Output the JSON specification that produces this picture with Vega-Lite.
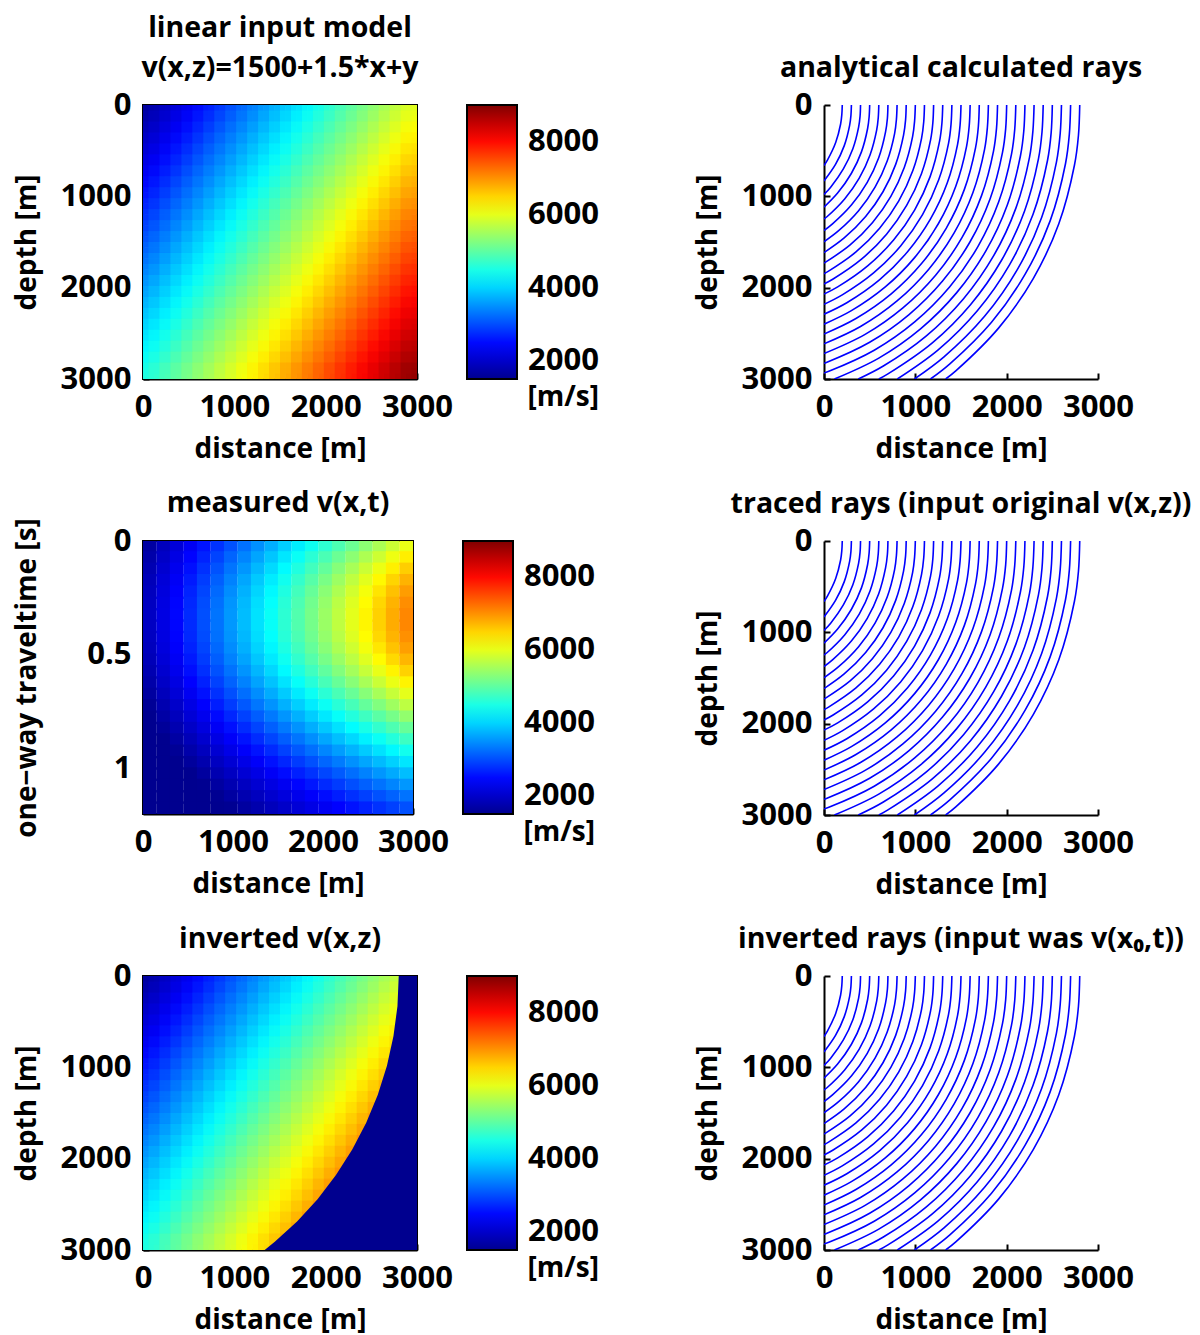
{
"$schema":"https://vega.github.io/schema/vega-lite/v6.json",
"background":"white",
"padding":{"left":12,"top":12,"right":0,"bottom":0},
"datasets":{
"model":[
{"x":60,"z":60,"v":1650},{"x":180,"z":60,"v":1830},{"x":300,"z":60,"v":2010},{"x":420,"z":60,"v":2190},{"x":540,"z":60,"v":2370},{"x":660,"z":60,"v":2550},{"x":780,"z":60,"v":2730},{"x":900,"z":60,"v":2910},{"x":1020,"z":60,"v":3090},{"x":1140,"z":60,"v":3270},{"x":1260,"z":60,"v":3450},{"x":1380,"z":60,"v":3630},{"x":1500,"z":60,"v":3810},{"x":1620,"z":60,"v":3990},{"x":1740,"z":60,"v":4170},{"x":1860,"z":60,"v":4350},{"x":1980,"z":60,"v":4530},{"x":2100,"z":60,"v":4710},{"x":2220,"z":60,"v":4890},{"x":2340,"z":60,"v":5070},{"x":2460,"z":60,"v":5250},{"x":2580,"z":60,"v":5430},{"x":2700,"z":60,"v":5610},{"x":2820,"z":60,"v":5790},{"x":2940,"z":60,"v":5970},
{"x":60,"z":180,"v":1770},{"x":180,"z":180,"v":1950},{"x":300,"z":180,"v":2130},{"x":420,"z":180,"v":2310},{"x":540,"z":180,"v":2490},{"x":660,"z":180,"v":2670},{"x":780,"z":180,"v":2850},{"x":900,"z":180,"v":3030},{"x":1020,"z":180,"v":3210},{"x":1140,"z":180,"v":3390},{"x":1260,"z":180,"v":3570},{"x":1380,"z":180,"v":3750},{"x":1500,"z":180,"v":3930},{"x":1620,"z":180,"v":4110},{"x":1740,"z":180,"v":4290},{"x":1860,"z":180,"v":4470},{"x":1980,"z":180,"v":4650},{"x":2100,"z":180,"v":4830},{"x":2220,"z":180,"v":5010},{"x":2340,"z":180,"v":5190},{"x":2460,"z":180,"v":5370},{"x":2580,"z":180,"v":5550},{"x":2700,"z":180,"v":5730},{"x":2820,"z":180,"v":5910},{"x":2940,"z":180,"v":6090},
{"x":60,"z":300,"v":1890},{"x":180,"z":300,"v":2070},{"x":300,"z":300,"v":2250},{"x":420,"z":300,"v":2430},{"x":540,"z":300,"v":2610},{"x":660,"z":300,"v":2790},{"x":780,"z":300,"v":2970},{"x":900,"z":300,"v":3150},{"x":1020,"z":300,"v":3330},{"x":1140,"z":300,"v":3510},{"x":1260,"z":300,"v":3690},{"x":1380,"z":300,"v":3870},{"x":1500,"z":300,"v":4050},{"x":1620,"z":300,"v":4230},{"x":1740,"z":300,"v":4410},{"x":1860,"z":300,"v":4590},{"x":1980,"z":300,"v":4770},{"x":2100,"z":300,"v":4950},{"x":2220,"z":300,"v":5130},{"x":2340,"z":300,"v":5310},{"x":2460,"z":300,"v":5490},{"x":2580,"z":300,"v":5670},{"x":2700,"z":300,"v":5850},{"x":2820,"z":300,"v":6030},{"x":2940,"z":300,"v":6210},
{"x":60,"z":420,"v":2010},{"x":180,"z":420,"v":2190},{"x":300,"z":420,"v":2370},{"x":420,"z":420,"v":2550},{"x":540,"z":420,"v":2730},{"x":660,"z":420,"v":2910},{"x":780,"z":420,"v":3090},{"x":900,"z":420,"v":3270},{"x":1020,"z":420,"v":3450},{"x":1140,"z":420,"v":3630},{"x":1260,"z":420,"v":3810},{"x":1380,"z":420,"v":3990},{"x":1500,"z":420,"v":4170},{"x":1620,"z":420,"v":4350},{"x":1740,"z":420,"v":4530},{"x":1860,"z":420,"v":4710},{"x":1980,"z":420,"v":4890},{"x":2100,"z":420,"v":5070},{"x":2220,"z":420,"v":5250},{"x":2340,"z":420,"v":5430},{"x":2460,"z":420,"v":5610},{"x":2580,"z":420,"v":5790},{"x":2700,"z":420,"v":5970},{"x":2820,"z":420,"v":6150},{"x":2940,"z":420,"v":6330},
{"x":60,"z":540,"v":2130},{"x":180,"z":540,"v":2310},{"x":300,"z":540,"v":2490},{"x":420,"z":540,"v":2670},{"x":540,"z":540,"v":2850},{"x":660,"z":540,"v":3030},{"x":780,"z":540,"v":3210},{"x":900,"z":540,"v":3390},{"x":1020,"z":540,"v":3570},{"x":1140,"z":540,"v":3750},{"x":1260,"z":540,"v":3930},{"x":1380,"z":540,"v":4110},{"x":1500,"z":540,"v":4290},{"x":1620,"z":540,"v":4470},{"x":1740,"z":540,"v":4650},{"x":1860,"z":540,"v":4830},{"x":1980,"z":540,"v":5010},{"x":2100,"z":540,"v":5190},{"x":2220,"z":540,"v":5370},{"x":2340,"z":540,"v":5550},{"x":2460,"z":540,"v":5730},{"x":2580,"z":540,"v":5910},{"x":2700,"z":540,"v":6090},{"x":2820,"z":540,"v":6270},{"x":2940,"z":540,"v":6450},
{"x":60,"z":660,"v":2250},{"x":180,"z":660,"v":2430},{"x":300,"z":660,"v":2610},{"x":420,"z":660,"v":2790},{"x":540,"z":660,"v":2970},{"x":660,"z":660,"v":3150},{"x":780,"z":660,"v":3330},{"x":900,"z":660,"v":3510},{"x":1020,"z":660,"v":3690},{"x":1140,"z":660,"v":3870},{"x":1260,"z":660,"v":4050},{"x":1380,"z":660,"v":4230},{"x":1500,"z":660,"v":4410},{"x":1620,"z":660,"v":4590},{"x":1740,"z":660,"v":4770},{"x":1860,"z":660,"v":4950},{"x":1980,"z":660,"v":5130},{"x":2100,"z":660,"v":5310},{"x":2220,"z":660,"v":5490},{"x":2340,"z":660,"v":5670},{"x":2460,"z":660,"v":5850},{"x":2580,"z":660,"v":6030},{"x":2700,"z":660,"v":6210},{"x":2820,"z":660,"v":6390},{"x":2940,"z":660,"v":6570},
{"x":60,"z":780,"v":2370},{"x":180,"z":780,"v":2550},{"x":300,"z":780,"v":2730},{"x":420,"z":780,"v":2910},{"x":540,"z":780,"v":3090},{"x":660,"z":780,"v":3270},{"x":780,"z":780,"v":3450},{"x":900,"z":780,"v":3630},{"x":1020,"z":780,"v":3810},{"x":1140,"z":780,"v":3990},{"x":1260,"z":780,"v":4170},{"x":1380,"z":780,"v":4350},{"x":1500,"z":780,"v":4530},{"x":1620,"z":780,"v":4710},{"x":1740,"z":780,"v":4890},{"x":1860,"z":780,"v":5070},{"x":1980,"z":780,"v":5250},{"x":2100,"z":780,"v":5430},{"x":2220,"z":780,"v":5610},{"x":2340,"z":780,"v":5790},{"x":2460,"z":780,"v":5970},{"x":2580,"z":780,"v":6150},{"x":2700,"z":780,"v":6330},{"x":2820,"z":780,"v":6510},{"x":2940,"z":780,"v":6690},
{"x":60,"z":900,"v":2490},{"x":180,"z":900,"v":2670},{"x":300,"z":900,"v":2850},{"x":420,"z":900,"v":3030},{"x":540,"z":900,"v":3210},{"x":660,"z":900,"v":3390},{"x":780,"z":900,"v":3570},{"x":900,"z":900,"v":3750},{"x":1020,"z":900,"v":3930},{"x":1140,"z":900,"v":4110},{"x":1260,"z":900,"v":4290},{"x":1380,"z":900,"v":4470},{"x":1500,"z":900,"v":4650},{"x":1620,"z":900,"v":4830},{"x":1740,"z":900,"v":5010},{"x":1860,"z":900,"v":5190},{"x":1980,"z":900,"v":5370},{"x":2100,"z":900,"v":5550},{"x":2220,"z":900,"v":5730},{"x":2340,"z":900,"v":5910},{"x":2460,"z":900,"v":6090},{"x":2580,"z":900,"v":6270},{"x":2700,"z":900,"v":6450},{"x":2820,"z":900,"v":6630},{"x":2940,"z":900,"v":6810},
{"x":60,"z":1020,"v":2610},{"x":180,"z":1020,"v":2790},{"x":300,"z":1020,"v":2970},{"x":420,"z":1020,"v":3150},{"x":540,"z":1020,"v":3330},{"x":660,"z":1020,"v":3510},{"x":780,"z":1020,"v":3690},{"x":900,"z":1020,"v":3870},{"x":1020,"z":1020,"v":4050},{"x":1140,"z":1020,"v":4230},{"x":1260,"z":1020,"v":4410},{"x":1380,"z":1020,"v":4590},{"x":1500,"z":1020,"v":4770},{"x":1620,"z":1020,"v":4950},{"x":1740,"z":1020,"v":5130},{"x":1860,"z":1020,"v":5310},{"x":1980,"z":1020,"v":5490},{"x":2100,"z":1020,"v":5670},{"x":2220,"z":1020,"v":5850},{"x":2340,"z":1020,"v":6030},{"x":2460,"z":1020,"v":6210},{"x":2580,"z":1020,"v":6390},{"x":2700,"z":1020,"v":6570},{"x":2820,"z":1020,"v":6750},{"x":2940,"z":1020,"v":6930},
{"x":60,"z":1140,"v":2730},{"x":180,"z":1140,"v":2910},{"x":300,"z":1140,"v":3090},{"x":420,"z":1140,"v":3270},{"x":540,"z":1140,"v":3450},{"x":660,"z":1140,"v":3630},{"x":780,"z":1140,"v":3810},{"x":900,"z":1140,"v":3990},{"x":1020,"z":1140,"v":4170},{"x":1140,"z":1140,"v":4350},{"x":1260,"z":1140,"v":4530},{"x":1380,"z":1140,"v":4710},{"x":1500,"z":1140,"v":4890},{"x":1620,"z":1140,"v":5070},{"x":1740,"z":1140,"v":5250},{"x":1860,"z":1140,"v":5430},{"x":1980,"z":1140,"v":5610},{"x":2100,"z":1140,"v":5790},{"x":2220,"z":1140,"v":5970},{"x":2340,"z":1140,"v":6150},{"x":2460,"z":1140,"v":6330},{"x":2580,"z":1140,"v":6510},{"x":2700,"z":1140,"v":6690},{"x":2820,"z":1140,"v":6870},{"x":2940,"z":1140,"v":7050},
{"x":60,"z":1260,"v":2850},{"x":180,"z":1260,"v":3030},{"x":300,"z":1260,"v":3210},{"x":420,"z":1260,"v":3390},{"x":540,"z":1260,"v":3570},{"x":660,"z":1260,"v":3750},{"x":780,"z":1260,"v":3930},{"x":900,"z":1260,"v":4110},{"x":1020,"z":1260,"v":4290},{"x":1140,"z":1260,"v":4470},{"x":1260,"z":1260,"v":4650},{"x":1380,"z":1260,"v":4830},{"x":1500,"z":1260,"v":5010},{"x":1620,"z":1260,"v":5190},{"x":1740,"z":1260,"v":5370},{"x":1860,"z":1260,"v":5550},{"x":1980,"z":1260,"v":5730},{"x":2100,"z":1260,"v":5910},{"x":2220,"z":1260,"v":6090},{"x":2340,"z":1260,"v":6270},{"x":2460,"z":1260,"v":6450},{"x":2580,"z":1260,"v":6630},{"x":2700,"z":1260,"v":6810},{"x":2820,"z":1260,"v":6990},{"x":2940,"z":1260,"v":7170},
{"x":60,"z":1380,"v":2970},{"x":180,"z":1380,"v":3150},{"x":300,"z":1380,"v":3330},{"x":420,"z":1380,"v":3510},{"x":540,"z":1380,"v":3690},{"x":660,"z":1380,"v":3870},{"x":780,"z":1380,"v":4050},{"x":900,"z":1380,"v":4230},{"x":1020,"z":1380,"v":4410},{"x":1140,"z":1380,"v":4590},{"x":1260,"z":1380,"v":4770},{"x":1380,"z":1380,"v":4950},{"x":1500,"z":1380,"v":5130},{"x":1620,"z":1380,"v":5310},{"x":1740,"z":1380,"v":5490},{"x":1860,"z":1380,"v":5670},{"x":1980,"z":1380,"v":5850},{"x":2100,"z":1380,"v":6030},{"x":2220,"z":1380,"v":6210},{"x":2340,"z":1380,"v":6390},{"x":2460,"z":1380,"v":6570},{"x":2580,"z":1380,"v":6750},{"x":2700,"z":1380,"v":6930},{"x":2820,"z":1380,"v":7110},{"x":2940,"z":1380,"v":7290},
{"x":60,"z":1500,"v":3090},{"x":180,"z":1500,"v":3270},{"x":300,"z":1500,"v":3450},{"x":420,"z":1500,"v":3630},{"x":540,"z":1500,"v":3810},{"x":660,"z":1500,"v":3990},{"x":780,"z":1500,"v":4170},{"x":900,"z":1500,"v":4350},{"x":1020,"z":1500,"v":4530},{"x":1140,"z":1500,"v":4710},{"x":1260,"z":1500,"v":4890},{"x":1380,"z":1500,"v":5070},{"x":1500,"z":1500,"v":5250},{"x":1620,"z":1500,"v":5430},{"x":1740,"z":1500,"v":5610},{"x":1860,"z":1500,"v":5790},{"x":1980,"z":1500,"v":5970},{"x":2100,"z":1500,"v":6150},{"x":2220,"z":1500,"v":6330},{"x":2340,"z":1500,"v":6510},{"x":2460,"z":1500,"v":6690},{"x":2580,"z":1500,"v":6870},{"x":2700,"z":1500,"v":7050},{"x":2820,"z":1500,"v":7230},{"x":2940,"z":1500,"v":7410},
{"x":60,"z":1620,"v":3210},{"x":180,"z":1620,"v":3390},{"x":300,"z":1620,"v":3570},{"x":420,"z":1620,"v":3750},{"x":540,"z":1620,"v":3930},{"x":660,"z":1620,"v":4110},{"x":780,"z":1620,"v":4290},{"x":900,"z":1620,"v":4470},{"x":1020,"z":1620,"v":4650},{"x":1140,"z":1620,"v":4830},{"x":1260,"z":1620,"v":5010},{"x":1380,"z":1620,"v":5190},{"x":1500,"z":1620,"v":5370},{"x":1620,"z":1620,"v":5550},{"x":1740,"z":1620,"v":5730},{"x":1860,"z":1620,"v":5910},{"x":1980,"z":1620,"v":6090},{"x":2100,"z":1620,"v":6270},{"x":2220,"z":1620,"v":6450},{"x":2340,"z":1620,"v":6630},{"x":2460,"z":1620,"v":6810},{"x":2580,"z":1620,"v":6990},{"x":2700,"z":1620,"v":7170},{"x":2820,"z":1620,"v":7350},{"x":2940,"z":1620,"v":7530},
{"x":60,"z":1740,"v":3330},{"x":180,"z":1740,"v":3510},{"x":300,"z":1740,"v":3690},{"x":420,"z":1740,"v":3870},{"x":540,"z":1740,"v":4050},{"x":660,"z":1740,"v":4230},{"x":780,"z":1740,"v":4410},{"x":900,"z":1740,"v":4590},{"x":1020,"z":1740,"v":4770},{"x":1140,"z":1740,"v":4950},{"x":1260,"z":1740,"v":5130},{"x":1380,"z":1740,"v":5310},{"x":1500,"z":1740,"v":5490},{"x":1620,"z":1740,"v":5670},{"x":1740,"z":1740,"v":5850},{"x":1860,"z":1740,"v":6030},{"x":1980,"z":1740,"v":6210},{"x":2100,"z":1740,"v":6390},{"x":2220,"z":1740,"v":6570},{"x":2340,"z":1740,"v":6750},{"x":2460,"z":1740,"v":6930},{"x":2580,"z":1740,"v":7110},{"x":2700,"z":1740,"v":7290},{"x":2820,"z":1740,"v":7470},{"x":2940,"z":1740,"v":7650},
{"x":60,"z":1860,"v":3450},{"x":180,"z":1860,"v":3630},{"x":300,"z":1860,"v":3810},{"x":420,"z":1860,"v":3990},{"x":540,"z":1860,"v":4170},{"x":660,"z":1860,"v":4350},{"x":780,"z":1860,"v":4530},{"x":900,"z":1860,"v":4710},{"x":1020,"z":1860,"v":4890},{"x":1140,"z":1860,"v":5070},{"x":1260,"z":1860,"v":5250},{"x":1380,"z":1860,"v":5430},{"x":1500,"z":1860,"v":5610},{"x":1620,"z":1860,"v":5790},{"x":1740,"z":1860,"v":5970},{"x":1860,"z":1860,"v":6150},{"x":1980,"z":1860,"v":6330},{"x":2100,"z":1860,"v":6510},{"x":2220,"z":1860,"v":6690},{"x":2340,"z":1860,"v":6870},{"x":2460,"z":1860,"v":7050},{"x":2580,"z":1860,"v":7230},{"x":2700,"z":1860,"v":7410},{"x":2820,"z":1860,"v":7590},{"x":2940,"z":1860,"v":7770},
{"x":60,"z":1980,"v":3570},{"x":180,"z":1980,"v":3750},{"x":300,"z":1980,"v":3930},{"x":420,"z":1980,"v":4110},{"x":540,"z":1980,"v":4290},{"x":660,"z":1980,"v":4470},{"x":780,"z":1980,"v":4650},{"x":900,"z":1980,"v":4830},{"x":1020,"z":1980,"v":5010},{"x":1140,"z":1980,"v":5190},{"x":1260,"z":1980,"v":5370},{"x":1380,"z":1980,"v":5550},{"x":1500,"z":1980,"v":5730},{"x":1620,"z":1980,"v":5910},{"x":1740,"z":1980,"v":6090},{"x":1860,"z":1980,"v":6270},{"x":1980,"z":1980,"v":6450},{"x":2100,"z":1980,"v":6630},{"x":2220,"z":1980,"v":6810},{"x":2340,"z":1980,"v":6990},{"x":2460,"z":1980,"v":7170},{"x":2580,"z":1980,"v":7350},{"x":2700,"z":1980,"v":7530},{"x":2820,"z":1980,"v":7710},{"x":2940,"z":1980,"v":7890},
{"x":60,"z":2100,"v":3690},{"x":180,"z":2100,"v":3870},{"x":300,"z":2100,"v":4050},{"x":420,"z":2100,"v":4230},{"x":540,"z":2100,"v":4410},{"x":660,"z":2100,"v":4590},{"x":780,"z":2100,"v":4770},{"x":900,"z":2100,"v":4950},{"x":1020,"z":2100,"v":5130},{"x":1140,"z":2100,"v":5310},{"x":1260,"z":2100,"v":5490},{"x":1380,"z":2100,"v":5670},{"x":1500,"z":2100,"v":5850},{"x":1620,"z":2100,"v":6030},{"x":1740,"z":2100,"v":6210},{"x":1860,"z":2100,"v":6390},{"x":1980,"z":2100,"v":6570},{"x":2100,"z":2100,"v":6750},{"x":2220,"z":2100,"v":6930},{"x":2340,"z":2100,"v":7110},{"x":2460,"z":2100,"v":7290},{"x":2580,"z":2100,"v":7470},{"x":2700,"z":2100,"v":7650},{"x":2820,"z":2100,"v":7830},{"x":2940,"z":2100,"v":8010},
{"x":60,"z":2220,"v":3810},{"x":180,"z":2220,"v":3990},{"x":300,"z":2220,"v":4170},{"x":420,"z":2220,"v":4350},{"x":540,"z":2220,"v":4530},{"x":660,"z":2220,"v":4710},{"x":780,"z":2220,"v":4890},{"x":900,"z":2220,"v":5070},{"x":1020,"z":2220,"v":5250},{"x":1140,"z":2220,"v":5430},{"x":1260,"z":2220,"v":5610},{"x":1380,"z":2220,"v":5790},{"x":1500,"z":2220,"v":5970},{"x":1620,"z":2220,"v":6150},{"x":1740,"z":2220,"v":6330},{"x":1860,"z":2220,"v":6510},{"x":1980,"z":2220,"v":6690},{"x":2100,"z":2220,"v":6870},{"x":2220,"z":2220,"v":7050},{"x":2340,"z":2220,"v":7230},{"x":2460,"z":2220,"v":7410},{"x":2580,"z":2220,"v":7590},{"x":2700,"z":2220,"v":7770},{"x":2820,"z":2220,"v":7950},{"x":2940,"z":2220,"v":8130},
{"x":60,"z":2340,"v":3930},{"x":180,"z":2340,"v":4110},{"x":300,"z":2340,"v":4290},{"x":420,"z":2340,"v":4470},{"x":540,"z":2340,"v":4650},{"x":660,"z":2340,"v":4830},{"x":780,"z":2340,"v":5010},{"x":900,"z":2340,"v":5190},{"x":1020,"z":2340,"v":5370},{"x":1140,"z":2340,"v":5550},{"x":1260,"z":2340,"v":5730},{"x":1380,"z":2340,"v":5910},{"x":1500,"z":2340,"v":6090},{"x":1620,"z":2340,"v":6270},{"x":1740,"z":2340,"v":6450},{"x":1860,"z":2340,"v":6630},{"x":1980,"z":2340,"v":6810},{"x":2100,"z":2340,"v":6990},{"x":2220,"z":2340,"v":7170},{"x":2340,"z":2340,"v":7350},{"x":2460,"z":2340,"v":7530},{"x":2580,"z":2340,"v":7710},{"x":2700,"z":2340,"v":7890},{"x":2820,"z":2340,"v":8070},{"x":2940,"z":2340,"v":8250},
{"x":60,"z":2460,"v":4050},{"x":180,"z":2460,"v":4230},{"x":300,"z":2460,"v":4410},{"x":420,"z":2460,"v":4590},{"x":540,"z":2460,"v":4770},{"x":660,"z":2460,"v":4950},{"x":780,"z":2460,"v":5130},{"x":900,"z":2460,"v":5310},{"x":1020,"z":2460,"v":5490},{"x":1140,"z":2460,"v":5670},{"x":1260,"z":2460,"v":5850},{"x":1380,"z":2460,"v":6030},{"x":1500,"z":2460,"v":6210},{"x":1620,"z":2460,"v":6390},{"x":1740,"z":2460,"v":6570},{"x":1860,"z":2460,"v":6750},{"x":1980,"z":2460,"v":6930},{"x":2100,"z":2460,"v":7110},{"x":2220,"z":2460,"v":7290},{"x":2340,"z":2460,"v":7470},{"x":2460,"z":2460,"v":7650},{"x":2580,"z":2460,"v":7830},{"x":2700,"z":2460,"v":8010},{"x":2820,"z":2460,"v":8190},{"x":2940,"z":2460,"v":8370},
{"x":60,"z":2580,"v":4170},{"x":180,"z":2580,"v":4350},{"x":300,"z":2580,"v":4530},{"x":420,"z":2580,"v":4710},{"x":540,"z":2580,"v":4890},{"x":660,"z":2580,"v":5070},{"x":780,"z":2580,"v":5250},{"x":900,"z":2580,"v":5430},{"x":1020,"z":2580,"v":5610},{"x":1140,"z":2580,"v":5790},{"x":1260,"z":2580,"v":5970},{"x":1380,"z":2580,"v":6150},{"x":1500,"z":2580,"v":6330},{"x":1620,"z":2580,"v":6510},{"x":1740,"z":2580,"v":6690},{"x":1860,"z":2580,"v":6870},{"x":1980,"z":2580,"v":7050},{"x":2100,"z":2580,"v":7230},{"x":2220,"z":2580,"v":7410},{"x":2340,"z":2580,"v":7590},{"x":2460,"z":2580,"v":7770},{"x":2580,"z":2580,"v":7950},{"x":2700,"z":2580,"v":8130},{"x":2820,"z":2580,"v":8310},{"x":2940,"z":2580,"v":8490},
{"x":60,"z":2700,"v":4290},{"x":180,"z":2700,"v":4470},{"x":300,"z":2700,"v":4650},{"x":420,"z":2700,"v":4830},{"x":540,"z":2700,"v":5010},{"x":660,"z":2700,"v":5190},{"x":780,"z":2700,"v":5370},{"x":900,"z":2700,"v":5550},{"x":1020,"z":2700,"v":5730},{"x":1140,"z":2700,"v":5910},{"x":1260,"z":2700,"v":6090},{"x":1380,"z":2700,"v":6270},{"x":1500,"z":2700,"v":6450},{"x":1620,"z":2700,"v":6630},{"x":1740,"z":2700,"v":6810},{"x":1860,"z":2700,"v":6990},{"x":1980,"z":2700,"v":7170},{"x":2100,"z":2700,"v":7350},{"x":2220,"z":2700,"v":7530},{"x":2340,"z":2700,"v":7710},{"x":2460,"z":2700,"v":7890},{"x":2580,"z":2700,"v":8070},{"x":2700,"z":2700,"v":8250},{"x":2820,"z":2700,"v":8430},{"x":2940,"z":2700,"v":8610},
{"x":60,"z":2820,"v":4410},{"x":180,"z":2820,"v":4590},{"x":300,"z":2820,"v":4770},{"x":420,"z":2820,"v":4950},{"x":540,"z":2820,"v":5130},{"x":660,"z":2820,"v":5310},{"x":780,"z":2820,"v":5490},{"x":900,"z":2820,"v":5670},{"x":1020,"z":2820,"v":5850},{"x":1140,"z":2820,"v":6030},{"x":1260,"z":2820,"v":6210},{"x":1380,"z":2820,"v":6390},{"x":1500,"z":2820,"v":6570},{"x":1620,"z":2820,"v":6750},{"x":1740,"z":2820,"v":6930},{"x":1860,"z":2820,"v":7110},{"x":1980,"z":2820,"v":7290},{"x":2100,"z":2820,"v":7470},{"x":2220,"z":2820,"v":7650},{"x":2340,"z":2820,"v":7830},{"x":2460,"z":2820,"v":8010},{"x":2580,"z":2820,"v":8190},{"x":2700,"z":2820,"v":8370},{"x":2820,"z":2820,"v":8550},{"x":2940,"z":2820,"v":8730},
{"x":60,"z":2940,"v":4530},{"x":180,"z":2940,"v":4710},{"x":300,"z":2940,"v":4890},{"x":420,"z":2940,"v":5070},{"x":540,"z":2940,"v":5250},{"x":660,"z":2940,"v":5430},{"x":780,"z":2940,"v":5610},{"x":900,"z":2940,"v":5790},{"x":1020,"z":2940,"v":5970},{"x":1140,"z":2940,"v":6150},{"x":1260,"z":2940,"v":6330},{"x":1380,"z":2940,"v":6510},{"x":1500,"z":2940,"v":6690},{"x":1620,"z":2940,"v":6870},{"x":1740,"z":2940,"v":7050},{"x":1860,"z":2940,"v":7230},{"x":1980,"z":2940,"v":7410},{"x":2100,"z":2940,"v":7590},{"x":2220,"z":2940,"v":7770},{"x":2340,"z":2940,"v":7950},{"x":2460,"z":2940,"v":8130},{"x":2580,"z":2940,"v":8310},{"x":2700,"z":2940,"v":8490},{"x":2820,"z":2940,"v":8670},{"x":2940,"z":2940,"v":8850}
],
"measured":[
{"x":75,"t":0.025,"v":1652},{"x":225,"t":0.025,"v":1883},{"x":375,"t":0.025,"v":2113},{"x":525,"t":0.025,"v":2344},{"x":675,"t":0.025,"v":2574},{"x":825,"t":0.025,"v":2805},{"x":975,"t":0.025,"v":3035},{"x":1125,"t":0.025,"v":3266},{"x":1275,"t":0.025,"v":3496},{"x":1425,"t":0.025,"v":3727},{"x":1575,"t":0.025,"v":3957},{"x":1725,"t":0.025,"v":4188},{"x":1875,"t":0.025,"v":4419},{"x":2025,"t":0.025,"v":4649},{"x":2175,"t":0.025,"v":4880},{"x":2325,"t":0.025,"v":5110},{"x":2475,"t":0.025,"v":5341},{"x":2625,"t":0.025,"v":5571},{"x":2775,"t":0.025,"v":5802},{"x":2925,"t":0.025,"v":6032},
{"x":75,"t":0.075,"v":1727},{"x":225,"t":0.075,"v":1968},{"x":375,"t":0.075,"v":2209},{"x":525,"t":0.075,"v":2449},{"x":675,"t":0.075,"v":2690},{"x":825,"t":0.075,"v":2931},{"x":975,"t":0.075,"v":3172},{"x":1125,"t":0.075,"v":3413},{"x":1275,"t":0.075,"v":3654},{"x":1425,"t":0.075,"v":3895},{"x":1575,"t":0.075,"v":4136},{"x":1725,"t":0.075,"v":4377},{"x":1875,"t":0.075,"v":4618},{"x":2025,"t":0.075,"v":4859},{"x":2175,"t":0.075,"v":5100},{"x":2325,"t":0.075,"v":5341},{"x":2475,"t":0.075,"v":5582},{"x":2625,"t":0.075,"v":5823},{"x":2775,"t":0.075,"v":6063},{"x":2925,"t":0.075,"v":6304},
{"x":75,"t":0.125,"v":1793},{"x":225,"t":0.125,"v":2043},{"x":375,"t":0.125,"v":2293},{"x":525,"t":0.125,"v":2543},{"x":675,"t":0.125,"v":2793},{"x":825,"t":0.125,"v":3043},{"x":975,"t":0.125,"v":3294},{"x":1125,"t":0.125,"v":3544},{"x":1275,"t":0.125,"v":3794},{"x":1425,"t":0.125,"v":4044},{"x":1575,"t":0.125,"v":4294},{"x":1725,"t":0.125,"v":4544},{"x":1875,"t":0.125,"v":4794},{"x":2025,"t":0.125,"v":5044},{"x":2175,"t":0.125,"v":5295},{"x":2325,"t":0.125,"v":5545},{"x":2475,"t":0.125,"v":5795},{"x":2625,"t":0.125,"v":6045},{"x":2775,"t":0.125,"v":6295},{"x":2925,"t":0.125,"v":6545},
{"x":75,"t":0.175,"v":1849},{"x":225,"t":0.175,"v":2107},{"x":375,"t":0.175,"v":2365},{"x":525,"t":0.175,"v":2623},{"x":675,"t":0.175,"v":2881},{"x":825,"t":0.175,"v":3139},{"x":975,"t":0.175,"v":3397},{"x":1125,"t":0.175,"v":3655},{"x":1275,"t":0.175,"v":3913},{"x":1425,"t":0.175,"v":4171},{"x":1575,"t":0.175,"v":4429},{"x":1725,"t":0.175,"v":4687},{"x":1875,"t":0.175,"v":4945},{"x":2025,"t":0.175,"v":5203},{"x":2175,"t":0.175,"v":5461},{"x":2325,"t":0.175,"v":5719},{"x":2475,"t":0.175,"v":5977},{"x":2625,"t":0.175,"v":6235},{"x":2775,"t":0.175,"v":6493},{"x":2925,"t":0.175,"v":6750},
{"x":75,"t":0.225,"v":1892},{"x":225,"t":0.225,"v":2156},{"x":375,"t":0.225,"v":2420},{"x":525,"t":0.225,"v":2684},{"x":675,"t":0.225,"v":2948},{"x":825,"t":0.225,"v":3212},{"x":975,"t":0.225,"v":3476},{"x":1125,"t":0.225,"v":3740},{"x":1275,"t":0.225,"v":4004},{"x":1425,"t":0.225,"v":4268},{"x":1575,"t":0.225,"v":4532},{"x":1725,"t":0.225,"v":4796},{"x":1875,"t":0.225,"v":5060},{"x":2025,"t":0.225,"v":5324},{"x":2175,"t":0.225,"v":5588},{"x":2325,"t":0.225,"v":5852},{"x":2475,"t":0.225,"v":6116},{"x":2625,"t":0.225,"v":6380},{"x":2775,"t":0.225,"v":6644},{"x":2925,"t":0.225,"v":6909},
{"x":75,"t":0.275,"v":1922},{"x":225,"t":0.275,"v":2190},{"x":375,"t":0.275,"v":2458},{"x":525,"t":0.275,"v":2726},{"x":675,"t":0.275,"v":2995},{"x":825,"t":0.275,"v":3263},{"x":975,"t":0.275,"v":3531},{"x":1125,"t":0.275,"v":3799},{"x":1275,"t":0.275,"v":4067},{"x":1425,"t":0.275,"v":4336},{"x":1575,"t":0.275,"v":4604},{"x":1725,"t":0.275,"v":4872},{"x":1875,"t":0.275,"v":5140},{"x":2025,"t":0.275,"v":5408},{"x":2175,"t":0.275,"v":5677},{"x":2325,"t":0.275,"v":5945},{"x":2475,"t":0.275,"v":6213},{"x":2625,"t":0.275,"v":6481},{"x":2775,"t":0.275,"v":6749},{"x":2925,"t":0.275,"v":7017},
{"x":75,"t":0.325,"v":1937},{"x":225,"t":0.325,"v":2207},{"x":375,"t":0.325,"v":2477},{"x":525,"t":0.325,"v":2747},{"x":675,"t":0.325,"v":3017},{"x":825,"t":0.325,"v":3287},{"x":975,"t":0.325,"v":3558},{"x":1125,"t":0.325,"v":3828},{"x":1275,"t":0.325,"v":4098},{"x":1425,"t":0.325,"v":4368},{"x":1575,"t":0.325,"v":4638},{"x":1725,"t":0.325,"v":4908},{"x":1875,"t":0.325,"v":5179},{"x":2025,"t":0.325,"v":5449},{"x":2175,"t":0.325,"v":5719},{"x":2325,"t":0.325,"v":5989},{"x":2475,"t":0.325,"v":6259},{"x":2625,"t":0.325,"v":6529},{"x":2775,"t":0.325,"v":6800},{"x":2925,"t":0.325,"v":7070},
{"x":75,"t":0.375,"v":1936},{"x":225,"t":0.375,"v":2206},{"x":375,"t":0.375,"v":2476},{"x":525,"t":0.375,"v":2746},{"x":675,"t":0.375,"v":3016},{"x":825,"t":0.375,"v":3286},{"x":975,"t":0.375,"v":3556},{"x":1125,"t":0.375,"v":3826},{"x":1275,"t":0.375,"v":4096},{"x":1425,"t":0.375,"v":4366},{"x":1575,"t":0.375,"v":4636},{"x":1725,"t":0.375,"v":4906},{"x":1875,"t":0.375,"v":5176},{"x":2025,"t":0.375,"v":5446},{"x":2175,"t":0.375,"v":5716},{"x":2325,"t":0.375,"v":5986},{"x":2475,"t":0.375,"v":6256},{"x":2625,"t":0.375,"v":6526},{"x":2775,"t":0.375,"v":6797},{"x":2925,"t":0.375,"v":7067},
{"x":75,"t":0.425,"v":1919},{"x":225,"t":0.425,"v":2187},{"x":375,"t":0.425,"v":2454},{"x":525,"t":0.425,"v":2722},{"x":675,"t":0.425,"v":2990},{"x":825,"t":0.425,"v":3258},{"x":975,"t":0.425,"v":3525},{"x":1125,"t":0.425,"v":3793},{"x":1275,"t":0.425,"v":4061},{"x":1425,"t":0.425,"v":4329},{"x":1575,"t":0.425,"v":4596},{"x":1725,"t":0.425,"v":4864},{"x":1875,"t":0.425,"v":5132},{"x":2025,"t":0.425,"v":5400},{"x":2175,"t":0.425,"v":5667},{"x":2325,"t":0.425,"v":5935},{"x":2475,"t":0.425,"v":6203},{"x":2625,"t":0.425,"v":6471},{"x":2775,"t":0.425,"v":6738},{"x":2925,"t":0.425,"v":7006},
{"x":75,"t":0.475,"v":1887},{"x":225,"t":0.475,"v":2151},{"x":375,"t":0.475,"v":2414},{"x":525,"t":0.475,"v":2677},{"x":675,"t":0.475,"v":2940},{"x":825,"t":0.475,"v":3204},{"x":975,"t":0.475,"v":3467},{"x":1125,"t":0.475,"v":3730},{"x":1275,"t":0.475,"v":3994},{"x":1425,"t":0.475,"v":4257},{"x":1575,"t":0.475,"v":4520},{"x":1725,"t":0.475,"v":4784},{"x":1875,"t":0.475,"v":5047},{"x":2025,"t":0.475,"v":5310},{"x":2175,"t":0.475,"v":5574},{"x":2325,"t":0.475,"v":5837},{"x":2475,"t":0.475,"v":6100},{"x":2625,"t":0.475,"v":6363},{"x":2775,"t":0.475,"v":6627},{"x":2925,"t":0.475,"v":6891},
{"x":75,"t":0.525,"v":1842},{"x":225,"t":0.525,"v":2099},{"x":375,"t":0.525,"v":2356},{"x":525,"t":0.525,"v":2613},{"x":675,"t":0.525,"v":2870},{"x":825,"t":0.525,"v":3127},{"x":975,"t":0.525,"v":3384},{"x":1125,"t":0.525,"v":3641},{"x":1275,"t":0.525,"v":3898},{"x":1425,"t":0.525,"v":4155},{"x":1575,"t":0.525,"v":4413},{"x":1725,"t":0.525,"v":4670},{"x":1875,"t":0.525,"v":4927},{"x":2025,"t":0.525,"v":5184},{"x":2175,"t":0.525,"v":5441},{"x":2325,"t":0.525,"v":5698},{"x":2475,"t":0.525,"v":5955},{"x":2625,"t":0.525,"v":6212},{"x":2775,"t":0.525,"v":6469},{"x":2925,"t":0.525,"v":6726},
{"x":75,"t":0.575,"v":1785},{"x":225,"t":0.575,"v":2034},{"x":375,"t":0.575,"v":2283},{"x":525,"t":0.575,"v":2532},{"x":675,"t":0.575,"v":2781},{"x":825,"t":0.575,"v":3030},{"x":975,"t":0.575,"v":3279},{"x":1125,"t":0.575,"v":3528},{"x":1275,"t":0.575,"v":3777},{"x":1425,"t":0.575,"v":4026},{"x":1575,"t":0.575,"v":4275},{"x":1725,"t":0.575,"v":4524},{"x":1875,"t":0.575,"v":4773},{"x":2025,"t":0.575,"v":5022},{"x":2175,"t":0.575,"v":5271},{"x":2325,"t":0.575,"v":5520},{"x":2475,"t":0.575,"v":5769},{"x":2625,"t":0.575,"v":6018},{"x":2775,"t":0.575,"v":6267},{"x":2925,"t":0.575,"v":6516},
{"x":75,"t":0.625,"v":1717},{"x":225,"t":0.625,"v":1957},{"x":375,"t":0.625,"v":2196},{"x":525,"t":0.625,"v":2436},{"x":675,"t":0.625,"v":2676},{"x":825,"t":0.625,"v":2915},{"x":975,"t":0.625,"v":3155},{"x":1125,"t":0.625,"v":3394},{"x":1275,"t":0.625,"v":3634},{"x":1425,"t":0.625,"v":3873},{"x":1575,"t":0.625,"v":4113},{"x":1725,"t":0.625,"v":4353},{"x":1875,"t":0.625,"v":4592},{"x":2025,"t":0.625,"v":4832},{"x":2175,"t":0.625,"v":5071},{"x":2325,"t":0.625,"v":5311},{"x":2475,"t":0.625,"v":5550},{"x":2625,"t":0.625,"v":5790},{"x":2775,"t":0.625,"v":6030},{"x":2925,"t":0.625,"v":6270},
{"x":75,"t":0.675,"v":1642},{"x":225,"t":0.675,"v":1871},{"x":375,"t":0.675,"v":2100},{"x":525,"t":0.675,"v":2329},{"x":675,"t":0.675,"v":2558},{"x":825,"t":0.675,"v":2788},{"x":975,"t":0.675,"v":3017},{"x":1125,"t":0.675,"v":3246},{"x":1275,"t":0.675,"v":3475},{"x":1425,"t":0.675,"v":3704},{"x":1575,"t":0.675,"v":3933},{"x":1725,"t":0.675,"v":4162},{"x":1875,"t":0.675,"v":4391},{"x":2025,"t":0.675,"v":4620},{"x":2175,"t":0.675,"v":4849},{"x":2325,"t":0.675,"v":5079},{"x":2475,"t":0.675,"v":5308},{"x":2625,"t":0.675,"v":5537},{"x":2775,"t":0.675,"v":5766},{"x":2925,"t":0.675,"v":5995},
{"x":75,"t":0.725,"v":1561},{"x":225,"t":0.725,"v":1779},{"x":375,"t":0.725,"v":1997},{"x":525,"t":0.725,"v":2214},{"x":675,"t":0.725,"v":2432},{"x":825,"t":0.725,"v":2650},{"x":975,"t":0.725,"v":2868},{"x":1125,"t":0.725,"v":3086},{"x":1275,"t":0.725,"v":3303},{"x":1425,"t":0.725,"v":3521},{"x":1575,"t":0.725,"v":3739},{"x":1725,"t":0.725,"v":3957},{"x":1875,"t":0.725,"v":4175},{"x":2025,"t":0.725,"v":4392},{"x":2175,"t":0.725,"v":4610},{"x":2325,"t":0.725,"v":4828},{"x":2475,"t":0.725,"v":5046},{"x":2625,"t":0.725,"v":5264},{"x":2775,"t":0.725,"v":5481},{"x":2925,"t":0.725,"v":5699},
{"x":75,"t":0.775,"v":1476},{"x":225,"t":0.775,"v":1681},{"x":375,"t":0.775,"v":1887},{"x":525,"t":0.775,"v":2093},{"x":675,"t":0.775,"v":2299},{"x":825,"t":0.775,"v":2505},{"x":975,"t":0.775,"v":2711},{"x":1125,"t":0.775,"v":2917},{"x":1275,"t":0.775,"v":3122},{"x":1425,"t":0.775,"v":3328},{"x":1575,"t":0.775,"v":3534},{"x":1725,"t":0.775,"v":3740},{"x":1875,"t":0.775,"v":3946},{"x":2025,"t":0.775,"v":4152},{"x":2175,"t":0.775,"v":4358},{"x":2325,"t":0.775,"v":4563},{"x":2475,"t":0.775,"v":4769},{"x":2625,"t":0.775,"v":4975},{"x":2775,"t":0.775,"v":5181},{"x":2925,"t":0.775,"v":5387},
{"x":75,"t":0.825,"v":1389},{"x":225,"t":0.825,"v":1583},{"x":375,"t":0.825,"v":1776},{"x":525,"t":0.825,"v":1970},{"x":675,"t":0.825,"v":2164},{"x":825,"t":0.825,"v":2358},{"x":975,"t":0.825,"v":2551},{"x":1125,"t":0.825,"v":2745},{"x":1275,"t":0.825,"v":2939},{"x":1425,"t":0.825,"v":3133},{"x":1575,"t":0.825,"v":3326},{"x":1725,"t":0.825,"v":3520},{"x":1875,"t":0.825,"v":3714},{"x":2025,"t":0.825,"v":3908},{"x":2175,"t":0.825,"v":4101},{"x":2325,"t":0.825,"v":4295},{"x":2475,"t":0.825,"v":4489},{"x":2625,"t":0.825,"v":4683},{"x":2775,"t":0.825,"v":4876},{"x":2925,"t":0.825,"v":5071},
{"x":75,"t":0.875,"v":1302},{"x":225,"t":0.875,"v":1483},{"x":375,"t":0.875,"v":1665},{"x":525,"t":0.875,"v":1846},{"x":675,"t":0.875,"v":2028},{"x":825,"t":0.875,"v":2210},{"x":975,"t":0.875,"v":2391},{"x":1125,"t":0.875,"v":2573},{"x":1275,"t":0.875,"v":2754},{"x":1425,"t":0.875,"v":2936},{"x":1575,"t":0.875,"v":3118},{"x":1725,"t":0.875,"v":3299},{"x":1875,"t":0.875,"v":3481},{"x":2025,"t":0.875,"v":3662},{"x":2175,"t":0.875,"v":3844},{"x":2325,"t":0.875,"v":4026},{"x":2475,"t":0.875,"v":4207},{"x":2625,"t":0.875,"v":4389},{"x":2775,"t":0.875,"v":4570},{"x":2925,"t":0.875,"v":4752},
{"x":75,"t":0.925,"v":1216},{"x":225,"t":0.925,"v":1385},{"x":375,"t":0.925,"v":1555},{"x":525,"t":0.925,"v":1725},{"x":675,"t":0.925,"v":1894},{"x":825,"t":0.925,"v":2064},{"x":975,"t":0.925,"v":2233},{"x":1125,"t":0.925,"v":2403},{"x":1275,"t":0.925,"v":2573},{"x":1425,"t":0.925,"v":2742},{"x":1575,"t":0.925,"v":2912},{"x":1725,"t":0.925,"v":3081},{"x":1875,"t":0.925,"v":3251},{"x":2025,"t":0.925,"v":3421},{"x":2175,"t":0.925,"v":3590},{"x":2325,"t":0.925,"v":3760},{"x":2475,"t":0.925,"v":3929},{"x":2625,"t":0.925,"v":4099},{"x":2775,"t":0.925,"v":4269},{"x":2925,"t":0.925,"v":4439},
{"x":75,"t":0.975,"v":1131},{"x":225,"t":0.975,"v":1289},{"x":375,"t":0.975,"v":1447},{"x":525,"t":0.975,"v":1605},{"x":675,"t":0.975,"v":1763},{"x":825,"t":0.975,"v":1921},{"x":975,"t":0.975,"v":2079},{"x":1125,"t":0.975,"v":2236},{"x":1275,"t":0.975,"v":2394},{"x":1425,"t":0.975,"v":2552},{"x":1575,"t":0.975,"v":2710},{"x":1725,"t":0.975,"v":2868},{"x":1875,"t":0.975,"v":3026},{"x":2025,"t":0.975,"v":3184},{"x":2175,"t":0.975,"v":3342},{"x":2325,"t":0.975,"v":3500},{"x":2475,"t":0.975,"v":3657},{"x":2625,"t":0.975,"v":3815},{"x":2775,"t":0.975,"v":3973},{"x":2925,"t":0.975,"v":4131},
{"x":75,"t":1.025,"v":1050},{"x":225,"t":1.025,"v":1197},{"x":375,"t":1.025,"v":1343},{"x":525,"t":1.025,"v":1490},{"x":675,"t":1.025,"v":1636},{"x":825,"t":1.025,"v":1783},{"x":975,"t":1.025,"v":1929},{"x":1125,"t":1.025,"v":2076},{"x":1275,"t":1.025,"v":2222},{"x":1425,"t":1.025,"v":2369},{"x":1575,"t":1.025,"v":2515},{"x":1725,"t":1.025,"v":2662},{"x":1875,"t":1.025,"v":2808},{"x":2025,"t":1.025,"v":2955},{"x":2175,"t":1.025,"v":3101},{"x":2325,"t":1.025,"v":3248},{"x":2475,"t":1.025,"v":3394},{"x":2625,"t":1.025,"v":3541},{"x":2775,"t":1.025,"v":3687},{"x":2925,"t":1.025,"v":3834},
{"x":75,"t":1.075,"v":972},{"x":225,"t":1.075,"v":1108},{"x":375,"t":1.075,"v":1244},{"x":525,"t":1.075,"v":1380},{"x":675,"t":1.075,"v":1515},{"x":825,"t":1.075,"v":1651},{"x":975,"t":1.075,"v":1787},{"x":1125,"t":1.075,"v":1922},{"x":1275,"t":1.075,"v":2058},{"x":1425,"t":1.075,"v":2194},{"x":1575,"t":1.075,"v":2329},{"x":1725,"t":1.075,"v":2465},{"x":1875,"t":1.075,"v":2601},{"x":2025,"t":1.075,"v":2737},{"x":2175,"t":1.075,"v":2872},{"x":2325,"t":1.075,"v":3008},{"x":2475,"t":1.075,"v":3144},{"x":2625,"t":1.075,"v":3279},{"x":2775,"t":1.075,"v":3415},{"x":2925,"t":1.075,"v":3551},
{"x":75,"t":1.125,"v":899},{"x":225,"t":1.125,"v":1024},{"x":375,"t":1.125,"v":1149},{"x":525,"t":1.125,"v":1275},{"x":675,"t":1.125,"v":1400},{"x":825,"t":1.125,"v":1526},{"x":975,"t":1.125,"v":1651},{"x":1125,"t":1.125,"v":1776},{"x":1275,"t":1.125,"v":1902},{"x":1425,"t":1.125,"v":2027},{"x":1575,"t":1.125,"v":2153},{"x":1725,"t":1.125,"v":2278},{"x":1875,"t":1.125,"v":2403},{"x":2025,"t":1.125,"v":2529},{"x":2175,"t":1.125,"v":2654},{"x":2325,"t":1.125,"v":2780},{"x":2475,"t":1.125,"v":2905},{"x":2625,"t":1.125,"v":3030},{"x":2775,"t":1.125,"v":3156},{"x":2925,"t":1.125,"v":3281},
{"x":75,"t":1.175,"v":829},{"x":225,"t":1.175,"v":945},{"x":375,"t":1.175,"v":1060},{"x":525,"t":1.175,"v":1176},{"x":675,"t":1.175,"v":1292},{"x":825,"t":1.175,"v":1407},{"x":975,"t":1.175,"v":1523},{"x":1125,"t":1.175,"v":1639},{"x":1275,"t":1.175,"v":1754},{"x":1425,"t":1.175,"v":1870},{"x":1575,"t":1.175,"v":1986},{"x":1725,"t":1.175,"v":2101},{"x":1875,"t":1.175,"v":2217},{"x":2025,"t":1.175,"v":2333},{"x":2175,"t":1.175,"v":2448},{"x":2325,"t":1.175,"v":2564},{"x":2475,"t":1.175,"v":2680},{"x":2625,"t":1.175,"v":2795},{"x":2775,"t":1.175,"v":2911},{"x":2925,"t":1.175,"v":3027}
],
"edge":[
{"x":2800,"z":0,"v":0},{"x":2786,"z":331,"v":0},{"x":2742,"z":660,"v":0},{"x":2671,"z":984,"v":0},{"x":2571,"z":1300,"v":0},{"x":2444,"z":1606,"v":0},{"x":2291,"z":1900,"v":0},{"x":2113,"z":2180,"v":0},{"x":1911,"z":2443,"v":0},{"x":1687,"z":2687,"v":0},{"x":1443,"z":2911,"v":0},{"x":1332,"z":3000,"v":0}
],
"rays":[
{"r":200,"x":200,"z":0},{"r":200,"x":195,"z":105},{"r":200,"x":182,"z":208},{"r":200,"x":128,"z":410},{"r":200,"x":39,"z":600},{"r":200,"x":0,"z":663},
{"r":300,"x":300,"z":0},{"r":300,"x":295,"z":113},{"r":300,"x":280,"z":226},{"r":300,"x":222,"z":445},{"r":300,"x":126,"z":650},{"r":300,"x":0,"z":831},
{"r":400,"x":400,"z":0},{"r":400,"x":395,"z":122},{"r":400,"x":379,"z":243},{"r":400,"x":316,"z":479},{"r":400,"x":212,"z":700},{"r":400,"x":73,"z":900},{"r":400,"x":0,"z":980},
{"r":500,"x":500,"z":0},{"r":500,"x":494,"z":131},{"r":500,"x":477,"z":260},{"r":500,"x":410,"z":513},{"r":500,"x":299,"z":750},{"r":500,"x":149,"z":964},{"r":500,"x":0,"z":1118},
{"r":600,"x":600,"z":0},{"r":600,"x":594,"z":139},{"r":600,"x":576,"z":278},{"r":600,"x":504,"z":547},{"r":600,"x":386,"z":800},{"r":600,"x":226,"z":1028},{"r":600,"x":29,"z":1226},{"r":600,"x":0,"z":1249},
{"r":700,"x":700,"z":0},{"r":700,"x":694,"z":148},{"r":700,"x":674,"z":295},{"r":700,"x":598,"z":581},{"r":700,"x":472,"z":850},{"r":700,"x":302,"z":1093},{"r":700,"x":93,"z":1302},{"r":700,"x":0,"z":1375},
{"r":800,"x":800,"z":0},{"r":800,"x":793,"z":157},{"r":800,"x":773,"z":313},{"r":800,"x":691,"z":616},{"r":800,"x":559,"z":900},{"r":800,"x":379,"z":1157},{"r":800,"x":157,"z":1379},{"r":800,"x":0,"z":1497},
{"r":900,"x":900,"z":0},{"r":900,"x":893,"z":166},{"r":900,"x":871,"z":330},{"r":900,"x":785,"z":650},{"r":900,"x":646,"z":950},{"r":900,"x":456,"z":1221},{"r":900,"x":221,"z":1456},{"r":900,"x":0,"z":1616},
{"r":1000,"x":1000,"z":0},{"r":1000,"x":992,"z":174},{"r":1000,"x":970,"z":347},{"r":1000,"x":879,"z":684},{"r":1000,"x":732,"z":1000},{"r":1000,"x":532,"z":1286},{"r":1000,"x":286,"z":1532},{"r":1000,"x":0,"z":1732},
{"r":1100,"x":1100,"z":0},{"r":1100,"x":1092,"z":183},{"r":1100,"x":1068,"z":365},{"r":1100,"x":973,"z":718},{"r":1100,"x":819,"z":1050},{"r":1100,"x":609,"z":1350},{"r":1100,"x":350,"z":1609},{"r":1100,"x":50,"z":1819},{"r":1100,"x":0,"z":1847},
{"r":1200,"x":1200,"z":0},{"r":1200,"x":1192,"z":192},{"r":1200,"x":1167,"z":382},{"r":1200,"x":1067,"z":752},{"r":1200,"x":905,"z":1100},{"r":1200,"x":685,"z":1414},{"r":1200,"x":414,"z":1685},{"r":1200,"x":100,"z":1905},{"r":1200,"x":0,"z":1960},
{"r":1300,"x":1300,"z":0},{"r":1300,"x":1291,"z":200},{"r":1300,"x":1265,"z":399},{"r":1300,"x":1161,"z":787},{"r":1300,"x":992,"z":1150},{"r":1300,"x":762,"z":1478},{"r":1300,"x":478,"z":1762},{"r":1300,"x":150,"z":1992},{"r":1300,"x":0,"z":2071},
{"r":1400,"x":1400,"z":0},{"r":1400,"x":1391,"z":209},{"r":1400,"x":1364,"z":417},{"r":1400,"x":1255,"z":821},{"r":1400,"x":1079,"z":1200},{"r":1400,"x":839,"z":1543},{"r":1400,"x":543,"z":1839},{"r":1400,"x":200,"z":2079},{"r":1400,"x":0,"z":2182},
{"r":1500,"x":1500,"z":0},{"r":1500,"x":1490,"z":218},{"r":1500,"x":1462,"z":434},{"r":1500,"x":1349,"z":855},{"r":1500,"x":1165,"z":1250},{"r":1500,"x":915,"z":1607},{"r":1500,"x":607,"z":1915},{"r":1500,"x":250,"z":2165},{"r":1500,"x":0,"z":2291},
{"r":1600,"x":1600,"z":0},{"r":1600,"x":1590,"z":227},{"r":1600,"x":1561,"z":452},{"r":1600,"x":1443,"z":889},{"r":1600,"x":1252,"z":1300},{"r":1600,"x":992,"z":1671},{"r":1600,"x":671,"z":1992},{"r":1600,"x":300,"z":2252},{"r":1600,"x":0,"z":2400},
{"r":1700,"x":1700,"z":0},{"r":1700,"x":1690,"z":235},{"r":1700,"x":1659,"z":469},{"r":1700,"x":1537,"z":924},{"r":1700,"x":1338,"z":1350},{"r":1700,"x":1068,"z":1736},{"r":1700,"x":736,"z":2068},{"r":1700,"x":350,"z":2338},{"r":1700,"x":0,"z":2508},
{"r":1800,"x":1800,"z":0},{"r":1800,"x":1789,"z":244},{"r":1800,"x":1758,"z":486},{"r":1800,"x":1631,"z":958},{"r":1800,"x":1425,"z":1400},{"r":1800,"x":1145,"z":1800},{"r":1800,"x":800,"z":2145},{"r":1800,"x":400,"z":2425},{"r":1800,"x":0,"z":2615},
{"r":1900,"x":1900,"z":0},{"r":1900,"x":1889,"z":253},{"r":1900,"x":1856,"z":504},{"r":1900,"x":1725,"z":992},{"r":1900,"x":1512,"z":1450},{"r":1900,"x":1222,"z":1864},{"r":1900,"x":864,"z":2222},{"r":1900,"x":450,"z":2512},{"r":1900,"x":0,"z":2722},
{"r":2000,"x":2000,"z":0},{"r":2000,"x":1989,"z":261},{"r":2000,"x":1954,"z":521},{"r":2000,"x":1819,"z":1026},{"r":2000,"x":1598,"z":1500},{"r":2000,"x":1298,"z":1928},{"r":2000,"x":928,"z":2298},{"r":2000,"x":500,"z":2598},{"r":2000,"x":26,"z":2819},{"r":2000,"x":0,"z":2828},
{"r":2100,"x":2100,"z":0},{"r":2100,"x":2088,"z":270},{"r":2100,"x":2053,"z":538},{"r":2100,"x":1913,"z":1060},{"r":2100,"x":1685,"z":1550},{"r":2100,"x":1375,"z":1993},{"r":2100,"x":993,"z":2375},{"r":2100,"x":550,"z":2685},{"r":2100,"x":60,"z":2913},{"r":2100,"x":0,"z":2934},
{"r":2200,"x":2200,"z":0},{"r":2200,"x":2188,"z":279},{"r":2200,"x":2151,"z":556},{"r":2200,"x":2007,"z":1095},{"r":2200,"x":1771,"z":1600},{"r":2200,"x":1451,"z":2057},{"r":2200,"x":1057,"z":2451},{"r":2200,"x":600,"z":2771},{"r":2200,"x":114,"z":3000},
{"r":2300,"x":2300,"z":0},{"r":2300,"x":2287,"z":288},{"r":2300,"x":2250,"z":573},{"r":2300,"x":2101,"z":1129},{"r":2300,"x":1858,"z":1650},{"r":2300,"x":1528,"z":2121},{"r":2300,"x":1121,"z":2528},{"r":2300,"x":650,"z":2858},{"r":2300,"x":375,"z":3000},
{"r":2400,"x":2400,"z":0},{"r":2400,"x":2387,"z":296},{"r":2400,"x":2348,"z":590},{"r":2400,"x":2195,"z":1163},{"r":2400,"x":1944,"z":1700},{"r":2400,"x":1604,"z":2186},{"r":2400,"x":1186,"z":2604},{"r":2400,"x":700,"z":2944},{"r":2400,"x":600,"z":3000},
{"r":2500,"x":2500,"z":0},{"r":2500,"x":2487,"z":305},{"r":2500,"x":2447,"z":608},{"r":2500,"x":2289,"z":1197},{"r":2500,"x":2031,"z":1750},{"r":2500,"x":1681,"z":2250},{"r":2500,"x":1250,"z":2681},{"r":2500,"x":803,"z":3000},
{"r":2600,"x":2600,"z":0},{"r":2600,"x":2586,"z":314},{"r":2600,"x":2545,"z":625},{"r":2600,"x":2383,"z":1231},{"r":2600,"x":2118,"z":1800},{"r":2600,"x":1758,"z":2314},{"r":2600,"x":1314,"z":2758},{"r":2600,"x":990,"z":3000},
{"r":2700,"x":2700,"z":0},{"r":2700,"x":2686,"z":322},{"r":2700,"x":2644,"z":643},{"r":2700,"x":2477,"z":1266},{"r":2700,"x":2204,"z":1850},{"r":2700,"x":1834,"z":2378},{"r":2700,"x":1378,"z":2834},{"r":2700,"x":1166,"z":3000},
{"r":2800,"x":2800,"z":0},{"r":2800,"x":2786,"z":331},{"r":2800,"x":2742,"z":660},{"r":2800,"x":2571,"z":1300},{"r":2800,"x":2291,"z":1900},{"r":2800,"x":1911,"z":2443},{"r":2800,"x":1443,"z":2911},{"r":2800,"x":1332,"z":3000}
]
},
"config":{
"font":"Open Sans",
"view":{"stroke":null},
"axis":{"labelFont":"Open Sans","labelFontSize":31,"labelFontWeight":"bold","labelColor":"#000","titleFont":"Open Sans","titleFontSize":28,"titleFontWeight":"bold","titleColor":"#000","domainColor":"#000","domainWidth":2,"tickColor":"#000","tickWidth":2,"tickSize":-6,"grid":false,"labelFlush":false,"labelOverlap":false},
"axisY":{"labelPadding":18,"minExtent":84,"maxExtent":84,"titlePadding":18},
"axisX":{"labelPadding":19.5,"minExtent":45,"maxExtent":45,"titlePadding":11},
"title":{"font":"Open Sans","fontSize":28.5,"fontWeight":"bold","color":"#000","lineHeight":40,"offset":7,"frame":"group","anchor":"middle"},
"legend":{"orient":"right","offset":50,"padding":0,"gradientLength":274,"gradientThickness":50,"gradientStrokeColor":"#000","gradientStrokeWidth":2,"gradientLabelOffset":11,"labelFont":"Open Sans","labelFontSize":31,"labelFontWeight":"bold","labelColor":"#000","labelOffset":11,"titleFont":"Open Sans","titleFontSize":28,"titleFontWeight":"bold","titleColor":"#000","titleOrient":"bottom","titleAnchor":"end","titlePadding":4,"labelOverlap":false}
},
"spacing":24,
"resolve":{"scale":{"color":"independent"},"legend":{"color":"independent"}},
"vconcat":[
{"hconcat":[
{"title":{"text":["linear input model","v(x,z)=1500+1.5*x+y"]},"width":274,"height":274,"view":{"stroke":"#000","strokeWidth":2},
"data":{"name":"model"},
"encoding":{
"x":{"field":"x","type":"quantitative","scale":{"domain":[0,3000],"nice":false,"zero":false},"axis":{"values":[0,1000,2000,3000],"format":"d","title":"distance [m]"}},
"y":{"field":"z","type":"quantitative","scale":{"domain":[0,3000],"nice":false,"reverse":true},"axis":{"values":[0,1000,2000,3000],"format":"d","title":"depth [m]"}},
"color":{"field":"v","type":"quantitative","scale":{"domain":[1500,2437.5,4312.5,6187.5,8062.5,9000],"range":["#00008f","#0000ff","#00ffff","#ffff00","#ff0000","#800000"],"clamp":true,"interpolate":"rgb"},"legend":{"title":"[m/s]","values":[2000,4000,6000,8000],"format":"d","type":"gradient","direction":"vertical","labelOffset":11}}
},
"layer":[
{"mark":{"type":"square","size":128,"opacity":1,"clip":true}},
{"mark":{"type":"square","size":480,"opacity":0.5,"clip":true}}
]},
{"title":{"text":[" ","analytical calculated rays"]},"width":274,"height":274,
"data":{"name":"rays"},
"mark":{"type":"line","color":"#0000ff","strokeWidth":1.6,"interpolate":"catmull-rom","clip":true},
"encoding":{
"x":{"field":"x","type":"quantitative","scale":{"domain":[0,3000],"nice":false,"zero":false},"axis":{"values":[0,1000,2000,3000],"format":"d","title":"distance [m]"}},
"y":{"field":"z","type":"quantitative","scale":{"domain":[0,3000],"nice":false,"reverse":true},"axis":{"values":[0,1000,2000,3000],"format":"d","title":"depth [m]"}},
"detail":{"field":"r","type":"nominal"},
"order":{"field":"z","type":"quantitative"}
}}
],"spacing":94,"resolve":{"scale":{"color":"independent"},"legend":{"color":"independent"}}},
{"hconcat":[
{"title":{"text":"measured v(x,t)","offset":0},"width":270,"height":273,"view":{"stroke":"#000","strokeWidth":2},
"data":{"name":"measured"},
"mark":{"type":"square","size":188,"opacity":1,"clip":true},
"encoding":{
"x":{"field":"x","type":"quantitative","scale":{"domain":[0,3000],"nice":false,"zero":false},"axis":{"values":[0,1000,2000,3000],"format":"d","title":"distance [m]"}},
"y":{"field":"t","type":"quantitative","scale":{"domain":[0,1.2],"nice":false,"reverse":true},"axis":{"values":[0,0.5,1],"format":"~g","title":"one−way traveltime [s]"}},
"color":{"field":"v","type":"quantitative","scale":{"domain":[1500,2437.5,4312.5,6187.5,8062.5,9000],"range":["#00008f","#0000ff","#00ffff","#ffff00","#ff0000","#800000"],"clamp":true,"interpolate":"rgb"},"legend":{"title":"[m/s]","values":[2000,4000,6000,8000],"format":"d","type":"gradient","direction":"vertical","gradientLength":273,"labelOffset":11}}
}},
{"title":{"text":"traced rays (input original v(x,z))"},"width":274,"height":274,
"data":{"name":"rays"},
"mark":{"type":"line","color":"#0000ff","strokeWidth":1.6,"interpolate":"catmull-rom","clip":true},
"encoding":{
"x":{"field":"x","type":"quantitative","scale":{"domain":[0,3000],"nice":false,"zero":false},"axis":{"values":[0,1000,2000,3000],"format":"d","title":"distance [m]"}},
"y":{"field":"z","type":"quantitative","scale":{"domain":[0,3000],"nice":false,"reverse":true},"axis":{"values":[0,1000,2000,3000],"format":"d","title":"depth [m]"}},
"detail":{"field":"r","type":"nominal"},
"order":{"field":"z","type":"quantitative"}
}}
],"spacing":98,"resolve":{"scale":{"color":"independent"},"legend":{"color":"independent"}}},
{"hconcat":[
{"title":{"text":"inverted v(x,z)"},"width":274,"height":274,"view":{"stroke":"#000","strokeWidth":2},
"encoding":{
"x":{"field":"x","type":"quantitative","scale":{"domain":[0,3000],"nice":false,"zero":false},"axis":{"values":[0,1000,2000,3000],"format":"d","title":"distance [m]"}},
"y":{"field":"z","type":"quantitative","scale":{"domain":[0,3000],"nice":false,"reverse":true},"axis":{"values":[0,1000,2000,3000],"format":"d","title":"depth [m]"}},
"color":{"field":"v","type":"quantitative","scale":{"domain":[1500,2437.5,4312.5,6187.5,8062.5,9000],"range":["#00008f","#0000ff","#00ffff","#ffff00","#ff0000","#800000"],"clamp":true,"interpolate":"rgb"},"legend":{"title":"[m/s]","values":[2000,4000,6000,8000],"format":"d","type":"gradient","direction":"vertical","labelOffset":11}}
},
"layer":[
{"data":{"name":"model"},"mark":{"type":"square","size":128,"opacity":1,"clip":true}},
{"data":{"name":"model"},"mark":{"type":"square","size":480,"opacity":0.5,"clip":true}},
{"data":{"name":"edge"},"mark":{"type":"area","orient":"horizontal","opacity":1,"clip":true},"encoding":{"x2":{"datum":3000}}}
]},
{"title":{"text":"inverted rays (input was v(x₀,t))"},"width":274,"height":274,
"data":{"name":"rays"},
"mark":{"type":"line","color":"#0000ff","strokeWidth":1.6,"interpolate":"catmull-rom","clip":true},
"encoding":{
"x":{"field":"x","type":"quantitative","scale":{"domain":[0,3000],"nice":false,"zero":false},"axis":{"values":[0,1000,2000,3000],"format":"d","title":"distance [m]"}},
"y":{"field":"z","type":"quantitative","scale":{"domain":[0,3000],"nice":false,"reverse":true},"axis":{"values":[0,1000,2000,3000],"format":"d","title":"depth [m]"}},
"detail":{"field":"r","type":"nominal"},
"order":{"field":"z","type":"quantitative"}
}}
],"spacing":94,"resolve":{"scale":{"color":"independent"},"legend":{"color":"independent"}}}
]
}
